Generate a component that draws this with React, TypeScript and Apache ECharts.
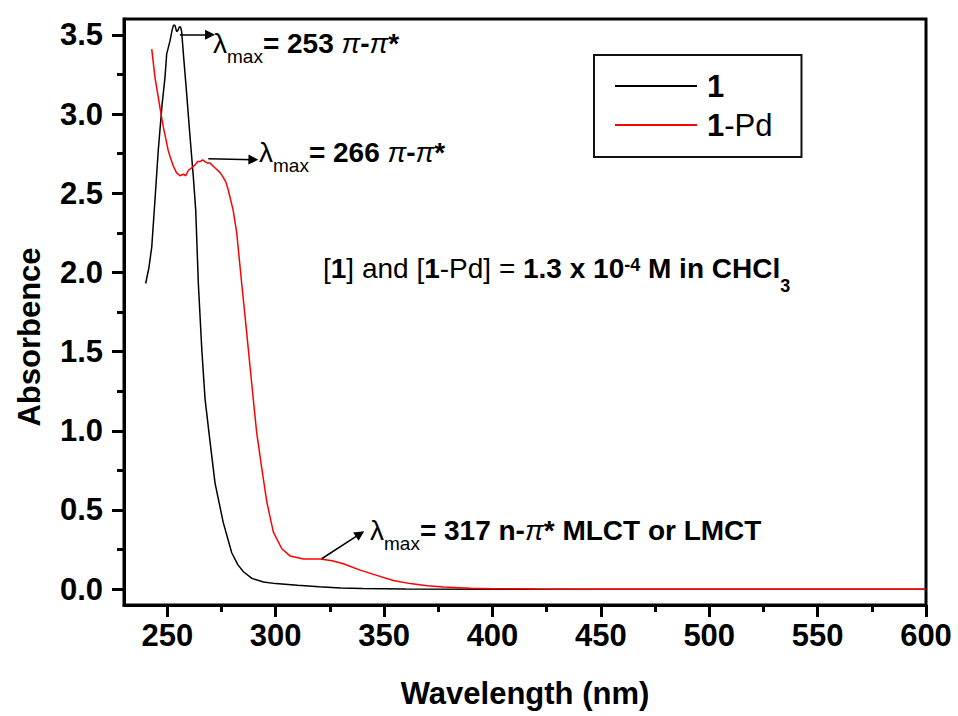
import React, { useEffect, useRef } from 'react';
import * as echarts from 'echarts';

const FONT = 'Liberation Sans';

// Series "1"
const wl1 = [240, 241.5, 242.8, 244.3, 245.8, 247.5, 248.9, 249.7, 251.2, 252.2, 252.8, 253.5, 254.3, 255.0, 255.5, 256.1, 256.6, 257.4, 258.9, 260.5, 262.0, 263.1, 264.3, 265.9, 267.4, 269.7, 272.0, 275.8, 279.7, 282.5, 285.1, 289, 294.3, 300, 310, 320, 330, 340, 360, 400, 450, 500, 550, 600];
const abs1 = [1.93, 2.03, 2.16, 2.46, 2.77, 3.05, 3.23, 3.38, 3.46, 3.53, 3.56, 3.56, 3.52, 3.53, 3.55, 3.55, 3.52, 3.38, 3.13, 2.85, 2.60, 2.39, 1.93, 1.51, 1.20, 0.93, 0.67, 0.42, 0.23, 0.155, 0.11, 0.068, 0.045, 0.035, 0.024, 0.015, 0.008, 0.004, 0.001, 0, 0, 0, 0, 0];

// Series "1-Pd"
const wl2 = [242.8, 244.3, 246.6, 248.1, 250.4, 251.5, 252.8, 254.2, 255.8, 257.4, 258.5, 259.7, 261.2, 262.8, 264.0, 265.1, 266.3, 267.4, 268.6, 269.7, 271.2, 272.8, 274.3, 275.8, 277.0, 278.1, 280.4, 282.0, 284.3, 286.6, 288.9, 291.2, 293.6, 295.9, 298.9, 302.8, 306.6, 312.8, 320.5, 326, 331.2, 338.9, 346.6, 354.3, 362, 370, 377.4, 390, 400.4, 420, 450, 500, 550, 600];
const abs2 = [3.41, 3.23, 3.04, 2.92, 2.77, 2.72, 2.67, 2.63, 2.61, 2.62, 2.61, 2.645, 2.66, 2.68, 2.70, 2.70, 2.71, 2.70, 2.69, 2.69, 2.67, 2.65, 2.63, 2.60, 2.57, 2.52, 2.39, 2.25, 1.93, 1.62, 1.30, 0.99, 0.76, 0.55, 0.36, 0.255, 0.21, 0.19, 0.19, 0.18, 0.16, 0.12, 0.087, 0.055, 0.035, 0.022, 0.014, 0.006, 0.003, 0.001, 0, 0, 0, 0];

const seriesNames = ['1', '1-Pd'];
const xMajorTicks = [250, 300, 350, 400, 450, 500, 550, 600];
const xMinorTicks = [275, 325, 375, 425, 475, 525, 575];
const yMajorTicks = [0, 0.5, 1, 1.5, 2, 2.5, 3, 3.5];
const yMinorTicks = [0.25, 0.75, 1.25, 1.75, 2.25, 2.75, 3.25];

// annotation arrows: [tail, head] in data units
const arrowTails = [[255.8, 3.5], [268.9, 2.718], [321.2, 0.192]];
const arrowHeads = [[269.7, 3.5], [289.7, 2.712], [338.9, 0.349]];

const annotationTexts = [
  '{l|λ}{s|max}{b|= 253 }{p|π}{b|-}{p|π}{b|*}',
  '{l|λ}{s|max}{b|= 266 }{p|π}{b|-}{p|π}{b|*}',
  '{l|λ}{s|max}{b|= 317 n-}{p|π}{b|* MLCT or LMCT}',
  '{n|[}{b|1}{n|] and [}{b|1}{n|-Pd] = }{b|1.3 x 10}{sup|-4}{b| M in CHCl}{sub|3}',
];

const tok = (size: number, weight = 'bold', style = 'normal', padding?: number[]) => {
  const t: any = { fontFamily: FONT, fontSize: size, fontWeight: weight, fontStyle: style, fill: '#000' };
  if (padding) t.padding = padding;
  return t;
};

const annRich = {
  l: tok(28, 'normal'),
  s: tok(19, 'normal', 'normal', [26, 0, 0, 0]),
  b: tok(28, 'bold'),
  p: tok(28, 'normal', 'italic'),
  n: tok(28, 'normal'),
  sup: tok(18, 'bold', 'normal', [0, 0, 7, 0]),
  sub: tok(18, 'bold', 'normal', [35, 0, 0, 0]),
};

export default function App() {
  const ref = useRef<HTMLDivElement>(null);

  useEffect(() => {
    document.body.style.margin = '0';
    if (!ref.current) return;
    const chart = echarts.init(ref.current, null, { renderer: 'svg' });

    const axisLabelStyle = { color: '#000', fontSize: 31, fontWeight: 'bold', fontFamily: FONT };
    const tickStyle = { color: '#000', width: 3 };

    const annPositions = [
      [213, 43],
      [259, 152],
      [370, 530],
      [323, 268],
    ];

    const option: any = {
      animation: false,
      backgroundColor: '#ffffff',
      grid: {
        left: 124, right: 32, top: 19, bottom: 111,
        show: true, borderColor: '#000', borderWidth: 3,
        containLabel: false, outerBoundsMode: 'none',
      },
      legend: {
        orient: 'vertical',
        left: 594, top: 55,
        padding: [15, 29, 16, 21],
        borderColor: '#111', borderWidth: 2,
        itemWidth: 82, itemHeight: 2, itemGap: 7,
        icon: 'rect',
        data: seriesNames,
        formatter: (name: string) => (name === '1' ? '{b|1}' : '{b|1}{n|-Pd}'),
        textStyle: {
          color: '#000', fontFamily: FONT, fontSize: 31, lineHeight: 32,
          rich: {
            b: { fontFamily: FONT, fontSize: 31, fontWeight: 'bold', color: '#000', lineHeight: 32, padding: [0, 0, 0, 5] },
            n: { fontFamily: FONT, fontSize: 31, fontWeight: 'normal', color: '#000', lineHeight: 32 },
          },
        },
      },
      xAxis: [
        {
          type: 'value', min: 230, max: 600, position: 'bottom',
          axisLine: { show: true, onZero: false, lineStyle: { color: '#000', width: 3 } },
          axisTick: { show: true, customValues: xMajorTicks, length: 12, lineStyle: tickStyle },
          axisLabel: { customValues: xMajorTicks, margin: 15, ...axisLabelStyle },
          splitLine: { show: false },
          name: 'Wavelength (nm)', nameLocation: 'middle', nameGap: 73,
          nameTextStyle: { color: '#000', fontSize: 31, fontWeight: 'bold', fontFamily: FONT },
        },
        {
          type: 'value', min: 230, max: 600, position: 'bottom',
          axisLine: { show: false, onZero: false },
          axisTick: { show: true, customValues: xMinorTicks, length: 7, lineStyle: tickStyle },
          axisLabel: { show: false },
          splitLine: { show: false },
        },
      ],
      yAxis: [
        {
          type: 'value', min: -0.1, max: 3.6, position: 'left',
          axisLine: { show: true, onZero: false, lineStyle: { color: '#000', width: 3 } },
          axisTick: { show: true, customValues: yMajorTicks, length: 12, lineStyle: tickStyle },
          axisLabel: { customValues: yMajorTicks, margin: 21, formatter: (v: number) => v.toFixed(1), ...axisLabelStyle },
          splitLine: { show: false },
        },
        {
          type: 'value', min: -0.1, max: 3.6, position: 'left',
          axisLine: { show: false, onZero: false },
          axisTick: { show: true, customValues: yMinorTicks, length: 7, lineStyle: tickStyle },
          axisLabel: { show: false },
          splitLine: { show: false },
        },
      ],
      series: [
        {
          name: seriesNames[0], type: 'line', xAxisIndex: 0, yAxisIndex: 0,
          data: wl1.map((x, i) => [x, abs1[i]]),
          showSymbol: false, symbol: 'none', color: '#000',
          lineStyle: { color: '#000', width: 1.5 },
          emphasis: { disabled: true },
          markLine: {
            silent: true,
            symbol: ['none', 'triangle'],
            symbolSize: 10,
            label: { show: false },
            lineStyle: { color: '#000', width: 1.5, type: 'solid' },
            emphasis: { disabled: true },
            data: arrowTails.map((t, i) => [{ coord: t }, { coord: arrowHeads[i] }]),
          },
        },
        {
          name: seriesNames[1], type: 'line', xAxisIndex: 0, yAxisIndex: 0,
          data: wl2.map((x, i) => [x, abs2[i]]),
          showSymbol: false, symbol: 'none', color: '#ff0000',
          lineStyle: { color: '#ff0000', width: 1.5 },
          emphasis: { disabled: true },
        },
      ],
      graphic: [
        {
          type: 'text', x: 29, y: 337, rotation: Math.PI / 2,
          style: {
            text: 'Absorbence', fontFamily: FONT, fontSize: 31, fontWeight: 'bold', fill: '#000',
            align: 'center', verticalAlign: 'middle',
          },
        },
        ...annotationTexts.map((t, i) => ({
          type: 'text', x: annPositions[i][0], y: annPositions[i][1],
          style: {
            text: t, rich: annRich, fontFamily: FONT, fontSize: 28, fontWeight: 'bold', fill: '#000',
            align: 'left', verticalAlign: 'middle',
          },
        })),
      ],
    };

    chart.setOption(option);
    return () => chart.dispose();
  }, []);

  return <div ref={ref} style={{ width: 958, height: 716 }} />;
}
